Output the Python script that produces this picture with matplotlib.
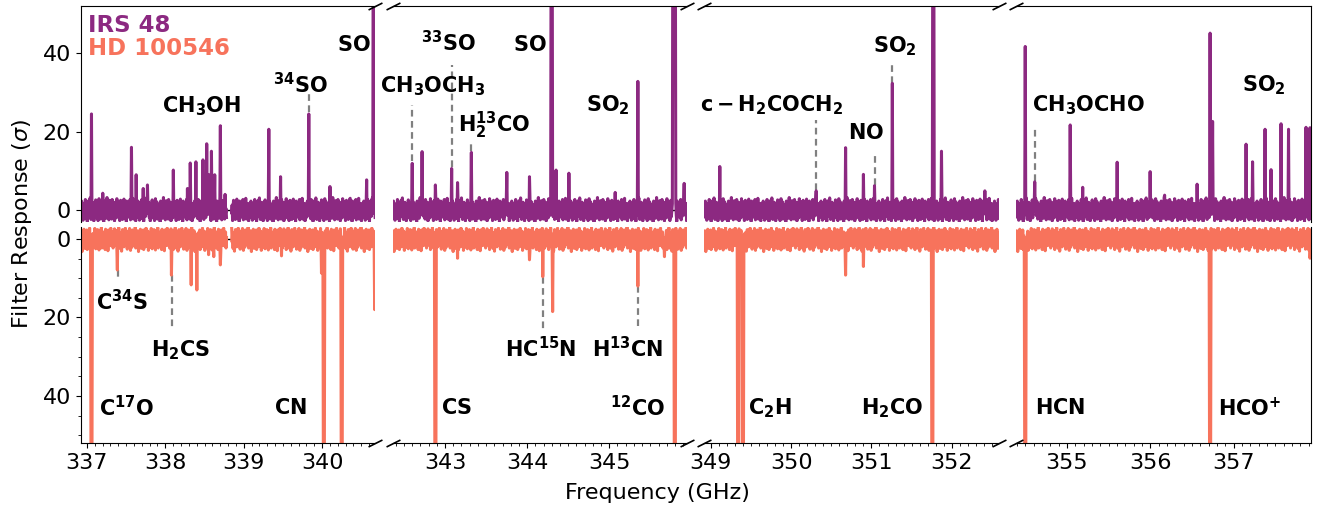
import numpy as np
import matplotlib.pyplot as plt
from matplotlib.ticker import MultipleLocator

# colours (magma-like)
purple = '#8c2981'
salmon = '#f7735c'

# frequency range of each panel (GHz)
panel_lo = [336.92, 342.36, 348.92, 354.39]
panel_hi = [340.68, 345.95, 352.59, 357.93]
panel_ticks = [[337, 338, 339, 340], [343, 344, 345], [349, 350, 351, 352], [355, 356, 357]]

# IRS 48 emission lines: frequency and peak response (sigma)
irs_freq = [
    [337.06, 337.20, 337.29, 337.57, 337.63, 337.72, 337.77, 338.10, 338.28, 338.32, 338.39,
     338.48, 338.53, 338.56, 338.59, 338.63, 338.70, 338.76, 339.32, 339.47, 339.83, 340.10,
     340.36, 340.57, 340.66],
    [342.60, 342.72, 342.88, 343.08, 343.15, 343.32, 343.75, 344.03, 344.30, 344.35, 344.51,
     345.07, 345.35, 345.78, 345.80, 345.91],
    [349.11, 350.31, 350.68, 350.90, 351.04, 351.26, 351.77, 351.87, 352.41],
    [354.50, 354.61, 355.04, 355.19, 355.60, 356.00, 356.17, 356.56, 356.72, 356.75, 357.15,
     357.23, 357.38, 357.45, 357.57, 357.66, 357.87, 357.92],
]
irs_peak = [
    [24.5, 4.3, 2.5, 16.0, 9.0, 5.5, 6.4, 10.2, 5.5, 12.0, 12.3,
     12.8, 16.9, 9.0, 15.0, 9.0, 21.5, 4.0, 20.6, 8.5, 24.5, 6.0,
     3.0, 7.7, 80.0],
    [11.9, 14.9, 6.4, 10.6, 7.0, 14.7, 9.6, 8.5, 80.0, 10.2, 9.4,
     4.5, 32.8, 80.0, 80.0, 6.8],
    [11.1, 4.9, 15.9, 9.1, 6.2, 32.3, 80.0, 15.0, 4.9],
    [41.7, 7.2, 21.7, 5.8, 12.2, 9.8, 3.8, 6.6, 45.1, 22.6, 16.8,
     12.3, 20.6, 10.3, 22.0, 20.6, 21.1, 21.0],
]

# HD 100546 absorption-like lines (plotted on inverted axis)
hd_freq = [
    [337.06, 337.39, 338.08, 338.33, 338.40, 338.55, 338.62, 338.70, 339.48, 339.99, 340.02,
     340.25, 340.67],
    [342.88, 343.15, 344.03, 344.19, 344.31, 345.35, 345.67, 345.80],
    [349.34, 349.40, 350.68, 350.90, 351.76],
    [354.50, 356.72, 357.92],
]
hd_peak = [
    [60.0, 7.9, 9.2, 11.7, 13.0, 4.0, 4.5, 6.6, 4.3, 8.7, 60.0,
     60.0, 18.0],
    [60.0, 4.9, 5.3, 9.6, 18.5, 12.0, 4.5, 60.0],
    [60.0, 60.0, 9.2, 7.0, 60.0],
    [60.0, 60.0, 4.9],
]

# channel noise (sigma)
noise = [0.6, -1.8, 2.3, -0.4, 1.2, -2.6, 0.3, 1.6, -1.0, -2.2, 2.7, 0.1, -0.6, 1.9, -2.9,
         0.8, -1.3, 2.4, -1.6, 0.4, 3.1, -0.9, -2.4, 1.1, -0.3, 2.0, -1.9, 0.7, -2.8, 1.4,
         0.0, -1.1, 2.6, -2.0, 1.0, -0.2, 1.7, -2.7, 0.5, 2.9, -1.4, -0.7, 2.1, -2.3, 1.3,
         0.3, -1.7, 1.5, -0.4, -3.0, 2.3, 0.8, -1.0, 1.8, -2.1, 0.2, 3.2, -1.3, -0.6, 1.4,
         -2.5, 0.7, 2.4, -1.6, -0.3, 1.1, -2.3, 2.7, -0.8, 0.4, -1.9, 2.0, -2.8, 1.0, 1.7,
         -1.1, -2.0, 2.9, 0.0, -1.4, 2.1, -0.7, 1.3, -2.7, 0.6, 2.5, -1.7, -0.1, 1.6, -2.4,
         0.8, -0.4, 2.8, -2.1, 0.3, 1.8, -1.3, -2.9, 2.3, 0.7, -1.0, 1.4, -1.8, 1.1, -0.6,
         2.7, -2.5, 0.4, -1.6, 2.0, -0.8, 3.0, -2.3, 0.1, 1.0, -1.4, 1.7, -2.8, 1.3, -0.3]

# flagged channels between spectral windows
gap_lo, gap_hi = 338.78, 338.84

# species labels: (panel, text, freq, response)
top_labels = [
    (0, r'$\mathbf{CH_3OH}$', 338.465, 26.6),
    (0, r'$\mathbf{{}^{34}SO}$', 339.72, 32.1),
    (0, r'$\mathbf{SO}$', 340.40, 42.1),
    (1, r'$\mathbf{CH_3OCH_3}$', 342.85, 31.7),
    (1, r'$\mathbf{{}^{33}SO}$', 343.04, 42.6),
    (1, r'$\mathbf{H_2^{13}CO}$', 343.60, 21.7),
    (1, r'$\mathbf{SO}$', 344.03, 42.1),
    (1, r'$\mathbf{SO_2}$', 344.98, 26.8),
    (2, r'$\mathbf{c-H_2COCH_2}$', 349.76, 26.8),
    (2, r'$\mathbf{NO}$', 350.93, 19.7),
    (2, r'$\mathbf{SO_2}$', 351.29, 41.7),
    (3, r'$\mathbf{CH_3OCHO}$', 355.26, 26.8),
    (3, r'$\mathbf{SO_2}$', 357.36, 31.9),
]
bottom_labels = [
    (0, r'$\mathbf{C^{34}S}$', 337.45, 16.0),
    (0, r'$\mathbf{H_2CS}$', 338.19, 28.3),
    (0, r'$\mathbf{C^{17}O}$', 337.51, 43.0),
    (0, r'$\mathbf{CN}$', 339.60, 43.0),
    (1, r'$\mathbf{CS}$', 343.14, 43.1),
    (1, r'$\mathbf{HC^{15}N}$', 344.16, 27.9),
    (1, r'$\mathbf{H^{13}CN}$', 345.22, 27.9),
    (1, r'$\mathbf{{}^{12}CO}$', 345.35, 43.1),
    (2, r'$\mathbf{C_2H}$', 349.73, 43.1),
    (2, r'$\mathbf{H_2CO}$', 351.26, 43.1),
    (3, r'$\mathbf{HCN}$', 354.92, 43.1),
    (3, r'$\mathbf{HCO}^{\mathbf{+}}$', 357.19, 43.1),
]
# dashed marker lines: (panel, freq, from, to)
top_marks = [(0, 339.83, 25.0, 30.0), (1, 342.60, 12.5, 26.8), (1, 343.08, 11.0, 37.0),
             (1, 343.32, 15.0, 17.9), (2, 350.31, 5.2, 23.0), (2, 351.04, 6.5, 14.9),
             (2, 351.26, 32.5, 37.0), (3, 354.61, 7.5, 20.9)]
bottom_marks = [(0, 337.39, 8.0, 10.0), (0, 338.08, 9.2, 22.8),
                (1, 344.19, 9.6, 23.0), (1, 345.35, 12.0, 23.0)]


def build_spectrum(lo, hi, freqs, peaks, shift):
    f = np.arange(lo, hi, 0.006)
    y = np.array([noise[(i + shift) % len(noise)] for i in range(len(f))])
    for fr, pk in zip(freqs, peaks):
        k = np.argmin(np.abs(f - fr))
        w = 1 if pk >= 50 else 0
        y[max(k - w, 0):k + w + 1] = pk
    y[(f > gap_lo) & (f < gap_hi)] = np.nan
    return f, y


fig, axes = plt.subplots(2, 4, figsize=(13.18, 5.08), dpi=100,
                         gridspec_kw=dict(hspace=0.025, wspace=0.058))
fig.subplots_adjust(left=0.0612, right=0.9947, top=0.988, bottom=0.128)

for i in range(4):
    ax_t = axes[0, i]
    ax_b = axes[1, i]
    f, y = build_spectrum(panel_lo[i], panel_hi[i], irs_freq[i], irs_peak[i], 0)
    ax_t.plot(f, y, color=purple, lw=2.2)
    f, y = build_spectrum(panel_lo[i], panel_hi[i], hd_freq[i], hd_peak[i], 53)
    ax_b.plot(f, y, color=salmon, lw=2.2)

    for ax in (ax_t, ax_b):
        ax.axhline(0, color='k', lw=1, zorder=0)
        ax.set_xlim(panel_lo[i], panel_hi[i])
        ax.tick_params(labelsize=16)
        if i > 0:
            ax.spines['left'].set_visible(False)
            ax.tick_params(which='both', left=False, labelleft=False)
        if i < 3:
            ax.spines['right'].set_visible(False)

    ax_t.set_ylim(-3, 52)
    ax_t.set_yticks([0, 20, 40])
    ax_t.spines['bottom'].set_visible(False)
    ax_t.tick_params(bottom=False, labelbottom=False)

    ax_b.set_ylim(52, -3)
    ax_b.set_yticks([0, 20, 40])
    ax_b.yaxis.set_minor_locator(MultipleLocator(5))
    ax_b.spines['top'].set_visible(False)
    ax_b.set_xticks(panel_ticks[i])
    ax_b.xaxis.set_minor_locator(MultipleLocator(0.1))

    # break marks
    d = 0.5
    kw = dict(marker=[(-1, -d), (1, d)], markersize=10, linestyle='none',
              color='k', mec='k', mew=1.2, clip_on=False)
    if i < 3:
        ax_t.plot([1], [1], transform=ax_t.transAxes, **kw)
        ax_b.plot([1], [0], transform=ax_b.transAxes, **kw)
    if i > 0:
        ax_t.plot([0], [1], transform=ax_t.transAxes, **kw)
        ax_b.plot([0], [0], transform=ax_b.transAxes, **kw)

for p, txt, x, y in top_labels:
    axes[0, p].text(x, y, txt, fontsize=15, ha='center', va='center')
for p, txt, x, y in bottom_labels:
    axes[1, p].text(x, y, txt, fontsize=15, ha='center', va='center')
for p, x, y0, y1 in top_marks:
    axes[0, p].plot([x, x], [y0, y1], color='gray', ls=(0, (3, 2)), lw=1.6, zorder=1)
for p, x, y0, y1 in bottom_marks:
    axes[1, p].plot([x, x], [y0, y1], color='gray', ls=(0, (3, 2)), lw=1.6, zorder=1)

axes[0, 0].text(0.025, 0.912, 'IRS 48', color=purple, fontsize=16.5, fontweight='bold',
                transform=axes[0, 0].transAxes, va='center')
axes[0, 0].text(0.025, 0.804, 'HD 100546', color=salmon, fontsize=16.5, fontweight='bold',
                transform=axes[0, 0].transAxes, va='center')

fig.text(0.017, 0.559, r'Filter Response ($\sigma$)', rotation=90, fontsize=16,
         va='center', ha='center')
fig.text(0.4985, 0.03, 'Frequency (GHz)', fontsize=16, ha='center', va='center')

plt.savefig('out.png', dpi=100)
